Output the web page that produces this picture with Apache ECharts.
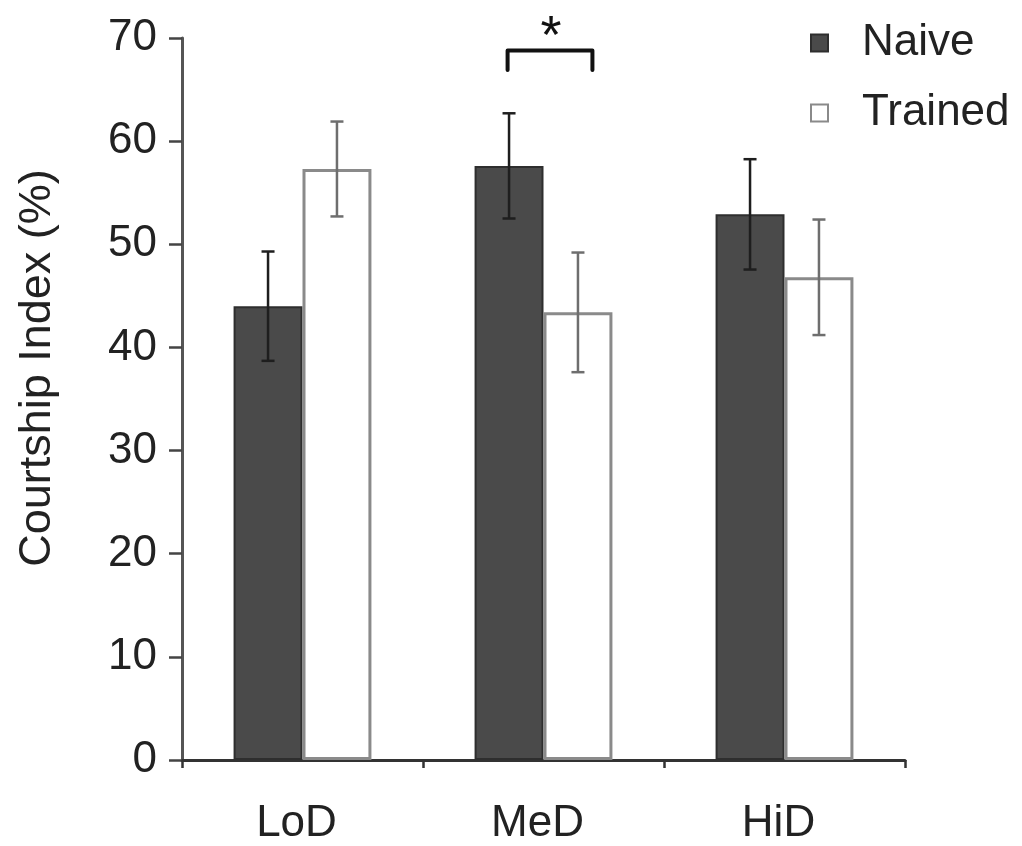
<!DOCTYPE html>
<html>
<head>
<meta charset="utf-8">
<script src="https://cdn.jsdelivr.net/npm/echarts@6/dist/echarts.min.js"></script>
<style>
  html, body { margin: 0; padding: 0; background: #fff; }
  #chart { width: 1022px; height: 846px; }
</style>
</head>
<body>
<div id="chart"></div>
<script>
// Courtship index by density group, naive vs trained (mean ± SEM)
const categories = ['LoD', 'MeD', 'HiD'];
const seriesNames = ['Naive', 'Trained'];
const naiveMean = [44.0, 57.6, 52.9];
const naiveErr = [5.3, 5.1, 5.35];
const trainedMean = [57.3, 43.4, 46.8];
const trainedErr = [4.6, 5.8, 5.6];
const yMin = 0, yMax = 70, yStep = 10;
// significance bracket: category, bracket height, leg end, marker
const sigCategory = ['MeD'];
const sigLevels = [68.8, 66.9];
const sigMarks = ['*'];

const FONT = 'Liberation Sans, Arial, sans-serif';
const FS = 44;
const BAR_FRAC = 0.286;   // bar width as a share of the category band

const chart = echarts.init(document.getElementById('chart'), null, { renderer: 'canvas' });

function errorSeries(means, errs, side, color) {
  return {
    type: 'custom',
    z: 10,
    silent: true,
    data: means.map((m, i) => [i, m, errs[i]]),
    renderItem(params, api) {
      const i = api.value(0), m = api.value(1), e = api.value(2);
      const band = api.size([1, 0])[0];
      const dx = side * band * BAR_FRAC / 2;
      const top = api.coord([i, m + e]);
      const bot = api.coord([i, m - e]);
      const x = top[0] + dx;
      const cap = 6.5;
      const style = { stroke: color, lineWidth: 2.5, fill: null };
      return {
        type: 'group',
        children: [
          { type: 'line', shape: { x1: x, y1: top[1], x2: x, y2: bot[1] }, style },
          { type: 'line', shape: { x1: x - cap, y1: top[1], x2: x + cap, y2: top[1] }, style },
          { type: 'line', shape: { x1: x - cap, y1: bot[1], x2: x + cap, y2: bot[1] }, style }
        ]
      };
    }
  };
}

const option = {
  animation: false,
  backgroundColor: '#fff',
  grid: { left: 182, right: 117, top: 38, bottom: 86, containLabel: false },
  legend: {
    orient: 'vertical',
    left: 805,
    top: 16,
    itemWidth: 17,
    itemHeight: 17,
    itemGap: 26,
    icon: 'rect',
    data: seriesNames,
    textStyle: { fontFamily: FONT, fontSize: FS, color: '#222', padding: [0, 0, 0, 29] }
  },
  xAxis: {
    type: 'category',
    data: categories,
    boundaryGap: true,
    axisLine: { lineStyle: { color: '#333', width: 3 } },
    axisTick: { show: true, interval: 0, length: 8, lineStyle: { color: '#333', width: 2.5 } },
    axisLabel: { fontFamily: FONT, fontSize: FS, color: '#222', margin: 42, padding: [0, 12, 0, 0] }
  },
  yAxis: {
    type: 'value',
    min: yMin,
    max: yMax,
    interval: yStep,
    splitLine: { show: false },
    axisLine: { show: true, lineStyle: { color: '#555', width: 3 } },
    axisTick: { show: true, length: 13, lineStyle: { color: '#444', width: 2.5 } },
    axisLabel: { fontFamily: FONT, fontSize: FS, color: '#222', margin: 25 }
  },
  graphic: [{
    type: 'text',
    x: 38,
    y: 368,
    rotation: Math.PI / 2,
    style: {
      text: 'Courtship Index (%)',
      font: '45px ' + FONT,
      fill: '#222',
      textAlign: 'center',
      textVerticalAlign: 'middle'
    }
  }],
  series: [
    {
      name: seriesNames[0],
      type: 'bar',
      data: naiveMean,
      barWidth: (BAR_FRAC * 100) + '%',
      barGap: '0%',
      itemStyle: { color: '#4a4a4a', borderColor: '#2e2e2e', borderWidth: 2 }
    },
    {
      name: seriesNames[1],
      type: 'bar',
      data: trainedMean,
      barWidth: (BAR_FRAC * 100) + '%',
      barGap: '0%',
      itemStyle: { color: '#ffffff', borderColor: '#8a8a8a', borderWidth: 3 }
    },
    errorSeries(naiveMean, naiveErr, -1, '#1e1e1e'),
    errorSeries(trainedMean, trainedErr, 1, '#6e6e6e'),
    {
      // significance bracket with marker above it
      type: 'custom',
      z: 12,
      silent: true,
      data: sigCategory.map((c, k) => [categories.indexOf(c), sigLevels[0], sigLevels[1], sigMarks[k]]),
      renderItem(params, api) {
        const i = api.value(0);
        const band = api.size([1, 0])[0];
        const top = api.coord([i, api.value(1)]);
        const leg = api.coord([i, api.value(2)]);
        const x1 = top[0] - band * 0.149;
        const x2 = top[0] + band * 0.203;
        const style = { stroke: '#111', lineWidth: 4, fill: null, lineJoin: 'round', lineCap: 'round' };
        return {
          type: 'group',
          children: [
            { type: 'polyline', shape: { points: [[x1, leg[1]], [x1, top[1]], [x2, top[1]], [x2, leg[1]]] }, style },
            {
              type: 'text',
              x: (x1 + x2) / 2 + 1,
              y: top[1] - 12,
              style: {
                text: sigMarks[params.dataIndex],
                font: '54px ' + FONT,
                fill: '#111',
                textAlign: 'center',
                textVerticalAlign: 'middle'
              }
            }
          ]
        };
      }
    }
  ]
};

chart.setOption(option);
</script>
</body>
</html>
